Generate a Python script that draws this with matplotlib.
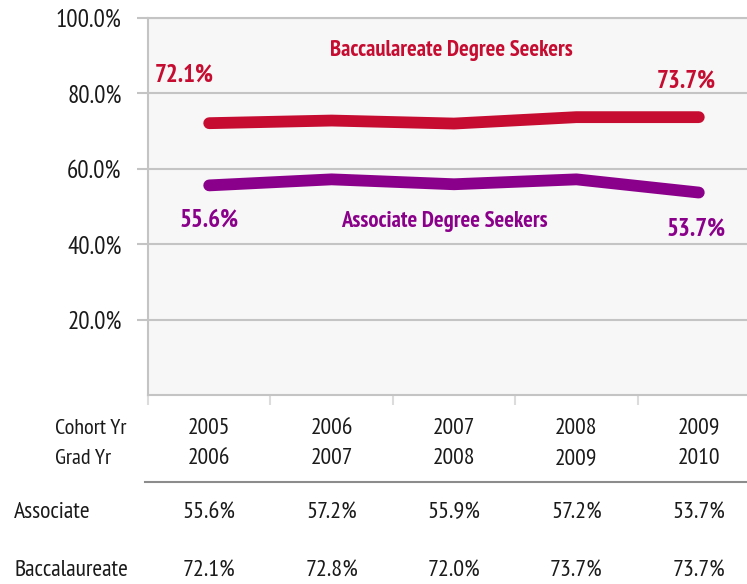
import matplotlib
matplotlib.use("Agg")
import matplotlib.pyplot as plt
from matplotlib.lines import Line2D
from matplotlib import font_manager

# --- data ---
cohort_years = ["2005", "2006", "2007", "2008", "2009"]
grad_years = ["2006", "2007", "2008", "2009", "2010"]
associate = [55.6, 57.2, 55.9, 57.2, 53.7]
baccalaureate = [72.1, 72.8, 72.0, 73.7, 73.7]
y_ticks = [20, 40, 60, 80, 100]

RED = "#c60c30"
PURPLE = "#8b008b"
GRID = "#c4c4c4"
TEXT = "#1a1a1a"

# first condensed face that is installed
names = {f.name for f in font_manager.fontManager.ttflist}
wanted = ["Myriad Pro", "PT Sans Narrow", "Fira Sans Condensed", "Roboto Condensed",
          "Open Sans Condensed", "Archivo Narrow", "Asap Condensed", "Liberation Sans Narrow",
          "Liberation Sans"]
FONT = next((n for n in wanted if n in names), "DejaVu Sans")
plt.rcParams["font.family"] = [FONT, "DejaVu Sans"]

fig = plt.figure(figsize=(7.47, 5.84), dpi=100)
W, H = 747, 584
# axes goes a little past the right edge
ax = fig.add_axes([148 / W, 1 - 395 / H, 612 / W, 377 / H])
ax.set_facecolor("#f7f7f7")

x = list(range(len(cohort_years)))
ax.plot(x, baccalaureate, color=RED, lw=8.5, solid_capstyle="round", solid_joinstyle="round", zorder=3)
ax.plot(x, associate, color=PURPLE, lw=8.5, solid_capstyle="round", solid_joinstyle="round", zorder=3)

ax.set_xlim(-0.5, 4.5)
ax.set_ylim(0, 100)
ax.set_yticks(y_ticks)
ax.set_yticklabels([f"{v:.1f}%" for v in y_ticks], fontsize=18, color=TEXT)
ax.set_xticks([i - 0.5 for i in range(len(x) + 1)])
ax.set_xticklabels([])
ax.tick_params(axis="y", length=8, width=1.5, color=GRID, pad=11)
ax.tick_params(axis="x", length=7, width=1.5, color="#dcdcdc")
ax.grid(axis="y", color=GRID, lw=1.5, zorder=1)
for side in ["left", "bottom", "top"]:
    ax.spines[side].set_color(GRID)
    ax.spines[side].set_linewidth(1.5)
ax.spines["right"].set_visible(False)

# end-point values and series names
lab = dict(fontsize=18, fontweight="bold", ha="center", va="center")
ax.text(-0.2, 84.9, f"{baccalaureate[0]:.1f}%", color=RED, **lab)
ax.text(3.9, 83.3, f"{baccalaureate[-1]:.1f}%", color=RED, **lab)
ax.text(0.0, 46.4, f"{associate[0]:.1f}%", color=PURPLE, **lab)
ax.text(3.98, 44.0, f"{associate[-1]:.1f}%", color=PURPLE, **lab)
ax.text(1.98, 91.5, "Baccaulareate Degree Seekers", color=RED, fontsize=16.3, fontweight="bold", ha="center", va="center")
ax.text(1.92, 45.9, "Associate Degree Seekers", color=PURPLE, fontsize=16.3, fontweight="bold", ha="center", va="center")

# table under the chart
tr = ax.get_xaxis_transform()
def row_y(px):
    return (395 - px) / 377

for i in x:
    ax.text(i, row_y(428), cohort_years[i], transform=tr, ha="center", va="center", fontsize=17, color=TEXT, clip_on=False)
    ax.text(i, row_y(459), grad_years[i], transform=tr, ha="center", va="center", fontsize=17, color=TEXT, clip_on=False)
    ax.text(i, row_y(513), f"{associate[i]:.1f}%", transform=tr, ha="center", va="center", fontsize=17.5, color=TEXT, clip_on=False)
    ax.text(i, row_y(571), f"{baccalaureate[i]:.1f}%", transform=tr, ha="center", va="center", fontsize=17.5, color=TEXT, clip_on=False)

fig.text(55 / W, 1 - 428 / H, "Cohort Yr", ha="left", va="center", fontsize=16, color=TEXT)
fig.text(55 / W, 1 - 459 / H, "Grad Yr", ha="left", va="center", fontsize=16, color=TEXT)
fig.text(14 / W, 1 - 513 / H, "Associate", ha="left", va="center", fontsize=17, color=TEXT)
fig.text(14 / W, 1 - 571 / H, "Baccalaureate", ha="left", va="center", fontsize=17, color=TEXT)
fig.add_artist(Line2D([145 / W, 1], [1 - 482 / H, 1 - 482 / H], transform=fig.transFigure, color="#8c8c8c", lw=1.5))

fig.savefig("out.png", dpi=100)
